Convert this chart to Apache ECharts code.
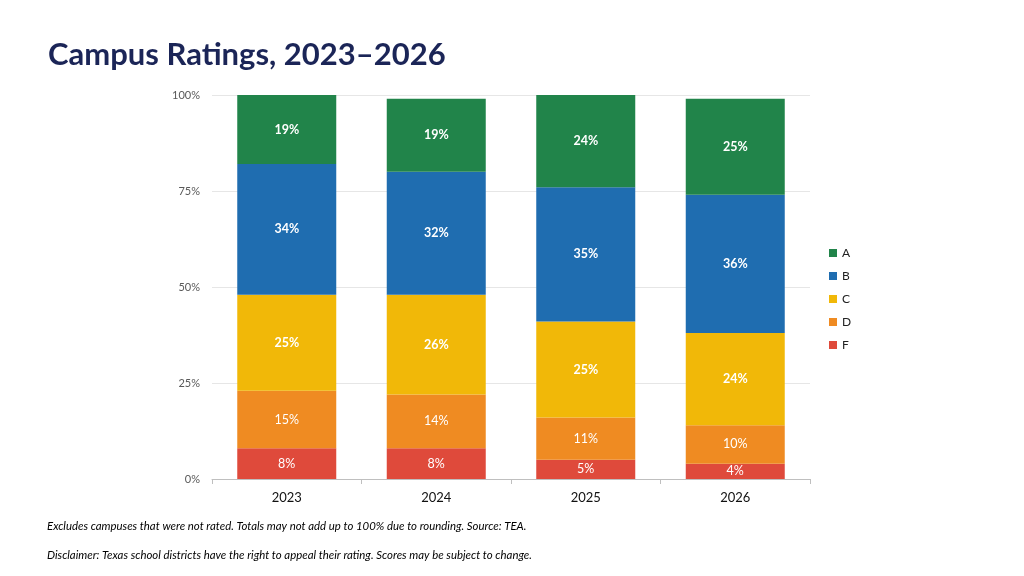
<!DOCTYPE html>
<html>
<head>
<meta charset="utf-8">
<script src="https://cdn.jsdelivr.net/npm/echarts@6/dist/echarts.min.js"></script>
<style>
    html, body { margin: 0; padding: 0; background: #ffffff; }
    #chart { width: 1024px; height: 576px; }
</style>
</head>
<body>
<div id="chart"></div>
<script>
// 年份
const years = ['2023', '2024', '2025', '2026']
// 各等级占比（%）
const gradeA = [19, 19, 24, 25]
const gradeB = [34, 32, 35, 36]
const gradeC = [25, 26, 25, 24]
const gradeD = [15, 14, 11, 10]
const gradeF = [8, 8, 5, 4]
// y轴刻度
const yTicks = [0, 25, 50, 75, 100]

const colors = {
    A: '#21844a',
    B: '#1f6db0',
    C: '#f1b808',
    D: '#ef8b22',
    F: '#df4a3b'
}
const font = 'Lato, "Open Sans", sans-serif'

const chart = echarts.init(document.getElementById('chart'))

// 堆叠柱子通用配置
const makeSeries = (name, data, bold) => ({
    name: name,
    type: 'bar',
    stack: 'total',
    data: data,
    barWidth: 99,
    clip: true,
    itemStyle: {
        color: colors[name]
    },
    label: {
        show: true,
        position: 'inside',
        formatter: '{c}%',
        color: '#ffffff',
        fontFamily: font,
        fontSize: 12.5,
        fontWeight: bold ? 'bold' : 'normal'
    },
    emphasis: { disabled: true }
})

const footStyle = {
    fontFamily: font,
    fontSize: 11.4,
    fontStyle: 'italic',
    fontWeight: 'normal',
    color: '#000000'
}

const option = {
    backgroundColor: '#ffffff',
    animation: false,
    title: [{
        text: 'Campus Ratings, 2023–2026',
        left: 43,
        top: 34,
        textStyle: {
            fontFamily: font,
            fontSize: 31,
            fontWeight: 'bold',
            color: '#1b2557'
        }
    }, {
        text: 'Excludes campuses that were not rated. Totals may not add up to 100% due to rounding. Source: TEA.',
        left: 42,
        top: 516,
        textStyle: footStyle
    }, {
        text: 'Disclaimer: Texas school districts have the right to appeal their rating. Scores may be subject to change.',
        left: 42,
        top: 545,
        textStyle: footStyle
    }],
    legend: {
        orient: 'vertical',
        left: 824,
        top: 242,
        itemWidth: 8,
        itemHeight: 8,
        itemGap: 11,
        icon: 'rect',
        data: ['A', 'B', 'C', 'D', 'F'],
        textStyle: {
            fontFamily: font,
            fontSize: 12,
            color: '#222222'
        }
    },
    grid: {
        left: 212,
        right: 214,
        top: 95,
        bottom: 97
    },
    xAxis: {
        type: 'category',
        data: years,
        axisLine: {
            lineStyle: { color: '#bfbfbf' }
        },
        axisTick: {
            show: true,
            length: 5,
            lineStyle: { color: '#bfbfbf' }
        },
        axisLabel: {
            margin: 12,
            fontFamily: font,
            fontSize: 13,
            color: '#111111'
        }
    },
    yAxis: {
        type: 'value',
        min: yTicks[0],
        max: yTicks[yTicks.length - 1],
        interval: 25,
        axisLine: { show: false },
        axisTick: { show: false },
        splitLine: {
            lineStyle: { color: '#e6e6e6' }
        },
        axisLabel: {
            margin: 12,
            formatter: '{value}%',
            fontFamily: font,
            fontSize: 11,
            color: '#595959'
        }
    },
    series: [
        makeSeries('F', gradeF, false),
        makeSeries('D', gradeD, false),
        makeSeries('C', gradeC, true),
        makeSeries('B', gradeB, true),
        makeSeries('A', gradeA, true)
    ]
}

chart.setOption(option)
</script>
</body>
</html>
